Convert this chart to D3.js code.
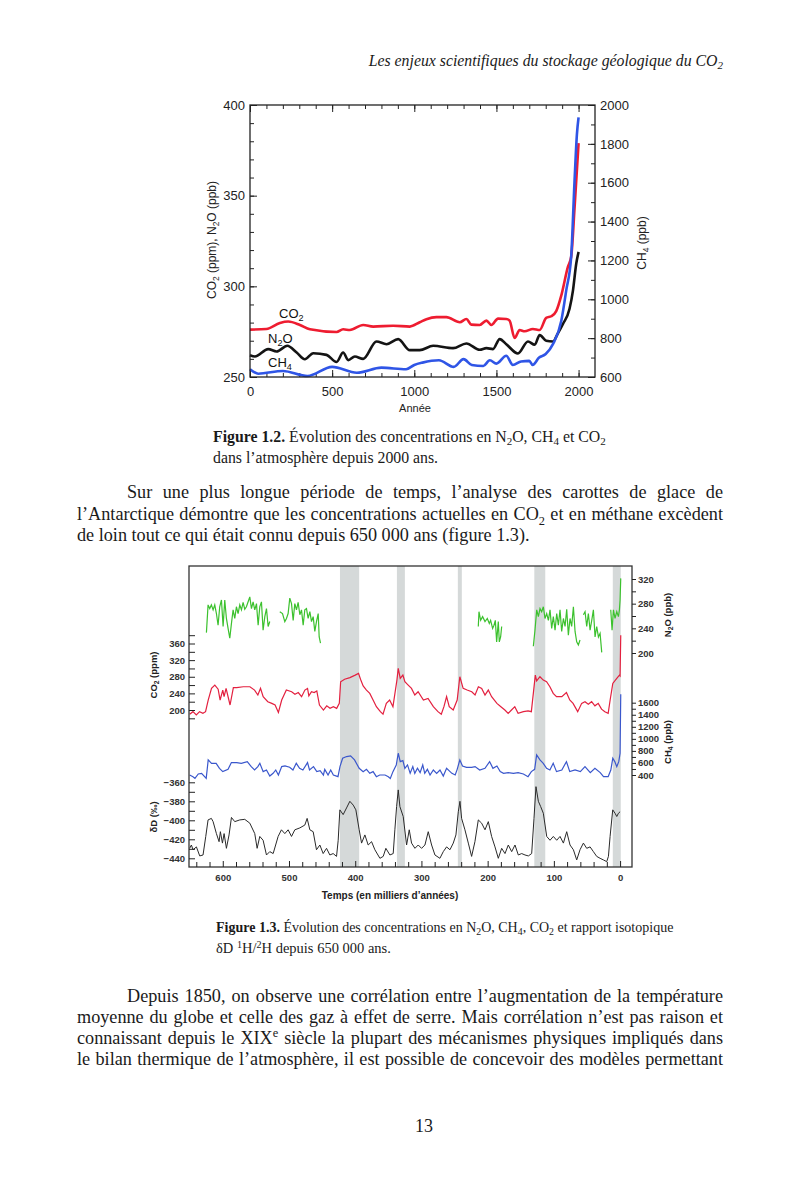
<!DOCTYPE html>
<html lang="fr">
<head>
<meta charset="UTF-8">
<title>Figures 1.2 et 1.3</title>
<script src="https://d3js.org/d3.v7.min.js"></script>
<style>
  body { margin: 0; background: #fff; }
  #page { position: relative; width: 800px; height: 1198px; overflow: hidden;
          font-family: "Liberation Serif", "Times New Roman", serif; color: #1a1a1a; }
  #page svg { position: absolute; left: 0; top: 0; }
  .line { position: absolute; font-size: 18.2px; line-height: 20px; }
  .just { text-align: justify; text-align-last: justify; }
  .line sub, .line sup { font-size: 0.68em; line-height: 0; }
</style>
</head>
<body>
<div id="page"></div>
<script>
// ---------- Figure 1.2 : 2000 dernières années ----------
var recentYearTicks = [0, 500, 1000, 1500, 2000];
var recentLeftTicks = [250, 300, 350, 400];
var recentRightTicks = [600, 800, 1000, 1200, 1400, 1600, 1800, 2000];

// [année, ppm]
var co2Recent = [[0,276.1],[100,276.5],[182,279.8],[233,280.6],[304,278.7],[365,276.3],[527,274.8],[567,276.3],
  [608,275.9],[689,278.7],[750,277.8],[871,278.3],[973,277.8],[1033,280.2],[1074,281.9],[1135,283],[1195,283],
  [1277,280.2],[1317,282],[1347,278.9],[1398,278.7],[1439,281.1],[1469,278.7],[1510,282.2],[1560,282],[1580,281.1],
  [1611,271.5],[1641,275.9],[1672,275.2],[1722,276.5],[1763,275.9],[1803,282.6],[1834,283.5],[1864,286.3],
  [1895,295],[1935,310.7],[1955,316.3],[1976,344],[2000,379]];
// [année, ppb]
var n2oRecent = [[0,262],[30,261.3],[111,265.4],[162,264.1],[227,267.2],[284,263.5],[334,259.8],[385,263.1],
  [466,262.2],[527,258.3],[567,263.5],[598,259.3],[638,261.3],[689,260],[770,269.6],[831,268.1],[902,270.9],
  [973,264.8],[1033,264.8],[1115,267.2],[1236,265.9],[1317,268.5],[1398,265],[1439,265.9],[1479,265.4],
  [1520,270.9],[1560,268.1],[1631,263],[1692,269.6],[1733,267.8],[1763,273.1],[1803,270],[1844,269.6],
  [1874,274.1],[1905,279.3],[1945,287.6],[1966,297.8],[1986,312.6],[2000,319]];
// [année, ppb] (axe de droite)
var ch4Recent = [[0,640],[50,617],[200,631],[350,605],[500,652],[650,622],[800,648],[950,640],[1000,662],
  [1050,674],[1150,686],[1240,652],[1300,692],[1350,662],[1420,657],[1460,686],[1500,669],[1560,709],[1600,662],
  [1650,680],[1700,683],[1720,662],[1760,700],[1800,718],[1844,769],[1895,890],[1925,1046],[1955,1219],
  [1975,1600],[1990,1850],[2000,1936]];

// ---------- Figure 1.3 : 650 000 ans (milliers d'années) ----------
var ageTicks = [600, 500, 400, 300, 200, 100, 0];
var co2Ticks = [200, 240, 280, 320, 360];
var dDTicks = [-440, -420, -400, -380, -360];
var n2oTicks = [200, 240, 280, 320];
var ch4Ticks = [400, 600, 800, 1000, 1200, 1400, 1600];
var interglacials = [[423, 394], [337, 325], [245, 239], [129.5, 113], [11, -1]];

// [âge, ppb], null = lacune
var n2oIce = [[624.7,233],[622.2,278],[619.7,272],[617.2,278],[614.6,270],[612.1,278],[609.6,264],[607.1,245],
  [604.6,275],[602.0,286],[599.5,243],[597.0,286],[594.5,256],[592.0,240],[589.4,224],[586.9,248],[584.4,270],
  [581.9,256],[579.4,275],[576.9,264],[574.3,278],[571.8,270],[569.3,282],[566.8,271],[564.3,275],[561.7,283],
  [559.2,291],[556.7,272],[554.2,283],[551.7,270],[549.1,280],[546.6,245],[544.1,275],[541.6,283],[539.1,237],
  [536.5,259],[534.0,272],[531.5,243],[529.0,251],[521,null],
  [513.9,267],[509.8,264],[506.3,251],[503.8,256],[501.3,264],[498.8,289],[496.2,280],[493.7,253],[491.2,280],
  [488.7,270],[486.2,282],[483.6,262],[481.1,270],[478.6,245],[476.1,270],[473.6,272],[471.1,256],[468.5,267],
  [466.0,251],[463.5,259],[461.0,235],[458.5,251],[455.9,264],[454.4,226],[452.4,216],[300,null],
  [214.1,243],[213.1,267],[210.6,253],[207.6,259],[204.0,251],[200.5,256],[197.5,248],[195.5,253],[192.5,240],
  [190.4,245],[188.4,253],[186.4,218],[183.9,251],[182.4,218],[180.4,226],[178.8,243],[150,null],
  [131.0,211],[128.5,237],[125.9,270],[123.4,259],[120.9,272],[118.4,267],[115.9,275],[113.4,256],[110.8,264],
  [108.3,253],[105.8,270],[103.3,240],[100.8,259],[98.2,237],[95.7,264],[93.2,245],[90.7,270],[88.2,235],
  [85.6,256],[83.1,243],[80.6,271],[78.1,229],[75.6,256],[73.1,243],[70.5,275],[68.0,235],[65.5,218],[63.0,213],
  [60.5,221],[58,null],[55.4,262],[52.9,267],[50.4,243],[47.9,264],[45.3,237],[42.8,253],[40.3,270],[37.8,226],
  [35.3,243],[32.7,226],[30.2,232],[27.7,201],[20,null],
  [14.1,270],[12.1,237],[10.1,270],[7.6,256],[5.0,267],[2.5,259],[1.0,270],[0,286],[-1,321]];
// [âge, ppm]
var co2Ice = [[650,190],[645,196],[640,188],[635,196],[630,192],[626,196],[622,224],[617,252],[612,260],[607,250],
  [604,224],[600,248],[598,232],[595,252],[589,212],[584,254],[579,254],[569,256],[559,256],[552,248],[547,236],
  [543,252],[539,232],[532,220],[526,216],[521,212],[516,194],[511,224],[504,248],[496,244],[491,238],[486,242],
  [481,232],[476,248],[472,252],[470,234],[466,244],[462,242],[458,246],[454,212],[448,200],[443,210],[438,204],
  [433,208],[428,204],[424,216],[422,268],[416,274],[408,278],[400,284],[395,288],[392,274],[388,258],[383,248],
  [378,240],[373,224],[368,208],[362,196],[358,190],[353,216],[348,224],[343,208],[340,240],[337,272],[335,300],
  [332,276],[328,284],[325,268],[320,260],[315,252],[310,236],[305,244],[297,224],[290,228],[282,208],[275,196],
  [270,190],[266,208],[262,232],[258,208],[252,200],[246,224],[242,280],[237,252],[231,248],[224,244],[219,236],
  [214,256],[209,252],[204,236],[199,248],[194,232],[186,216],[180,208],[174,200],[169,192],[164,200],[159,208],
  [154,192],[146,196],[139,198],[134,196],[128,284],[126,270],[121,280],[116,272],[111,268],[106,256],[101,240],
  [96,232],[88,232],[81,242],[76,224],[71,216],[64,196],[58,216],[53,220],[48,214],[43,220],[38,210],[33,216],
  [28,202],[23,196],[18,192],[15,224],[11,264],[5,276],[1,284],[0,282],[-1,380]];
// [âge, ppb]
var ch4Ice = [[650,400],[645,372],[642,344],[637,417],[632,428],[625,344],[622,650],[617,594],[610,594],[605,511],
  [600,456],[592,494],[587,606],[579,606],[572,594],[563,622],[557,539],[552,483],[547,539],[544,594],[539,456],
  [534,483],[529,383],[524,428],[520,483],[516,400],[511,539],[506,550],[499,528],[494,483],[489,594],[484,511],
  [479,483],[472,606],[469,483],[463,539],[458,456],[453,472],[448,400],[446,494],[441,400],[437,483],[433,400],
  [426,372],[423,539],[419,678],[413,706],[407,717],[401,650],[394,511],[388,456],[383,494],[378,428],[373,456],
  [368,372],[363,400],[355,400],[350,372],[347,344],[343,456],[338,567],[335,761],[332,622],[328,639],[325,511],
  [321,567],[317,428],[313,539],[310,428],[306,511],[302,439],[298,567],[295,428],[291,494],[287,400],[282,483],
  [277,428],[272,483],[267,383],[262,511],[254,428],[249,400],[246,494],[242,650],[238,550],[232,528],[224,528],
  [219,539],[212,483],[204,511],[197,622],[192,511],[186,550],[181,456],[176,428],[169,439],[161,428],[154,439],
  [146,417],[139,372],[134,456],[129,494],[126,733],[121,650],[116,594],[111,511],[106,483],[101,594],[96,456],
  [88,483],[81,622],[76,456],[68,483],[60,456],[53,539],[45,439],[38,511],[30,439],[25,372],[18,372],[14,483],
  [11,678],[8,622],[5,539],[2,622],[0,761],[-1,1740]];
// [âge, ‰]
var dDIce = [[650,-429.5],[647.4,-426],[644.9,-431],[639.8,-428],[634.8,-437.5],[629.8,-436.5],[625.7,-417],
  [622.2,-399.6],[617.2,-398],[614.6,-401.4],[609.6,-414],[605.6,-422.5],[603.6,-412],[600.5,-424],[598,-414],
  [594.5,-429.5],[590.5,-415.4],[586.9,-397],[581.9,-401.4],[574.3,-399.6],[566.8,-399],[559.2,-403],[551.7,-414],
  [548.1,-429.5],[544.1,-417],[539.1,-421],[534,-436.5],[529,-433],[523.9,-435],[516.4,-417],[511.4,-410],
  [506.3,-414],[501.3,-410],[496.2,-417],[491.2,-410],[483.6,-408],[476.1,-405],[472.6,-398],[468.5,-410],
  [463.5,-412],[458.5,-431],[453.4,-426],[448.4,-435],[443.3,-429.5],[438.3,-436.5],[433.3,-435],[428.2,-438],
  [425.7,-421],[423.2,-389],[418.2,-394],[413.1,-387],[408.1,-380],[403,-384],[399,-389],[394,-410],[390.4,-424],
  [385.4,-415.4],[380.4,-426],[375.3,-422.5],[370.3,-431],[362.7,-440],[357.7,-438],[353.7,-429.5],[347.6,-436.5],
  [342.6,-435],[340.1,-410],[337.5,-385.6],[335,-368],[332.5,-385.6],[327.5,-396],[322.4,-426],[318.4,-410],
  [314.9,-424],[309.8,-429.5],[304.8,-426],[299.8,-429.5],[294.7,-426],[289.7,-412],[284.6,-426],[279.6,-436.5],
  [272.1,-440],[267,-433],[262,-428],[256.9,-431],[251.9,-424],[247.9,-415.4],[244.3,-391],[241.8,-380],
  [239.3,-398],[234.3,-410],[229.2,-424],[224.2,-438],[219.2,-422.5],[214.1,-399.6],[209.1,-403],[204,-410],
  [199,-401.4],[194,-417],[188.9,-428],[183.9,-440],[178.8,-429.5],[173.8,-435],[168.8,-426],[163.7,-433],
  [158.7,-426],[153.7,-436.5],[148.6,-435],[143.6,-436.5],[138.5,-437.5],[133.5,-435],[130,-398],[127,-364.6],
  [123.4,-380],[119.9,-385.6],[115.9,-392.6],[110.8,-417],[105.8,-421],[100.8,-417],[95.7,-421],[90.7,-417],
  [85.6,-424],[80.6,-412],[75.6,-426],[70.5,-431],[65.5,-441.7],[60.5,-431],[55.4,-424],[50.4,-429.5],
  [45.3,-428],[40.3,-433],[35.3,-438],[30.2,-440],[25.2,-441.7],[20.2,-443.5],[17.6,-438],[15.1,-417],
  [11.1,-389],[7.6,-392.6],[5,-396],[2.5,-392.6],[0,-391]];

var sans = "'Liberation Sans', Arial, Helvetica, sans-serif";
var serif = "'Liberation Serif', 'Times New Roman', serif";
var fmt = d3.format("d");
var page = d3.select("#page");
var svg = page.append("svg").attr("width", 800).attr("height", 1198);

// texte avec indices / exposants
function rich(text, parts, fs) {
  parts.forEach(function(p) {
    var t = text.append("tspan").text(p[0]);
    if (p[1] === "b") t.attr("font-weight", "bold");
    if (p[1] === "sub") t.attr("font-size", fs * 0.7).attr("baseline-shift", -fs * 0.22);
    if (p[1] === "sup") t.attr("font-size", fs * 0.7).attr("baseline-shift", fs * 0.38);
  });
  return text;
}

function addAxis(g, gen, tr) {
  var a = g.append("g").attr("transform", tr).call(gen);
  a.select(".domain").remove();
  a.selectAll(".tick line").attr("stroke", "#222");
  return a;
}

// ---------- en-tête ----------
rich(svg.append("text").attr("x", 723).attr("y", 66).attr("text-anchor", "end")
  .attr("font-family", serif).attr("font-size", 15.8).attr("font-style", "italic").attr("fill", "#1a1a1a"),
  [["Les enjeux scientifiques du stockage géologique du CO"], ["2", "sub"]], 15.8);

// ---------- Figure 1.2 ----------
var x1 = d3.scaleLinear().domain([0, 2100]).range([250, 595]);
var y1 = d3.scaleLinear().domain([250, 400]).range([377, 105]);
var y1r = d3.scaleLinear().domain([600, 2000]).range([377, 105]);
var g1 = svg.append("g").attr("font-family", sans);

var minorYears = d3.range(0, 2100, 100);
var b1 = addAxis(g1, d3.axisBottom(x1).tickValues(recentYearTicks).tickFormat(fmt).tickSize(-7).tickPadding(10), "translate(0,377)");
addAxis(g1, d3.axisBottom(x1).tickValues(minorYears).tickSize(-4).tickFormat(""), "translate(0,377)");
addAxis(g1, d3.axisTop(x1).tickValues(recentYearTicks).tickSize(-7).tickFormat(""), "translate(0,105)");
addAxis(g1, d3.axisTop(x1).tickValues(minorYears).tickSize(-4).tickFormat(""), "translate(0,105)");
var l1 = addAxis(g1, d3.axisLeft(y1).tickValues(recentLeftTicks).tickFormat(fmt).tickSize(-7).tickPadding(5), "translate(250,0)");
addAxis(g1, d3.axisLeft(y1).tickValues(d3.range(250, 401, 10)).tickSize(-4).tickFormat(""), "translate(250,0)");
var r1 = addAxis(g1, d3.axisRight(y1r).tickValues(recentRightTicks).tickFormat(fmt).tickSize(-7).tickPadding(5), "translate(595,0)");
addAxis(g1, d3.axisRight(y1r).tickValues(d3.range(600, 2001, 100)).tickSize(-4).tickFormat(""), "translate(595,0)");
[b1, l1, r1].forEach(function(a) {
  a.selectAll("text").attr("font-family", sans).attr("font-size", 13).attr("fill", "#222");
});

var line1 = function(y) {
  return d3.line().x(function(d) { return x1(d[0]); }).y(function(d) { return y(d[1]); }).curve(d3.curveMonotoneX);
};
g1.append("path").datum(n2oRecent).attr("d", line1(y1)).attr("fill", "none").attr("stroke", "#141414")
  .attr("stroke-width", 2.6).attr("stroke-linejoin", "round");
g1.append("path").datum(co2Recent).attr("d", line1(y1)).attr("fill", "none").attr("stroke", "#ee1c30")
  .attr("stroke-width", 2.6).attr("stroke-linejoin", "round");
g1.append("path").datum(ch4Recent).attr("d", line1(y1r)).attr("fill", "none").attr("stroke", "#2f55e6")
  .attr("stroke-width", 2.6).attr("stroke-linejoin", "round");

g1.append("rect").attr("x", 250).attr("y", 105).attr("width", 345).attr("height", 272)
  .attr("fill", "none").attr("stroke", "#222").attr("stroke-width", 1.3);

rich(g1.append("text").attr("x", 279).attr("y", 318).attr("font-size", 13).attr("fill", "#111"), [["CO"], ["2", "sub"]], 13);
rich(g1.append("text").attr("x", 268).attr("y", 343).attr("font-size", 13).attr("fill", "#111"), [["N"], ["2", "sub"], ["O"]], 13);
rich(g1.append("text").attr("x", 268).attr("y", 367).attr("font-size", 13).attr("fill", "#111"), [["CH"], ["4", "sub"]], 13);

g1.append("text").attr("x", 415).attr("y", 412).attr("text-anchor", "middle").attr("font-size", 11)
  .attr("fill", "#222").text("Année");
rich(g1.append("text").attr("transform", "translate(216,240) rotate(-90)").attr("text-anchor", "middle")
  .attr("font-size", 12).attr("fill", "#222"),
  [["CO"], ["2", "sub"], [" (ppm), N"], ["2", "sub"], ["O (ppb)"]], 12);
rich(g1.append("text").attr("transform", "translate(646,243) rotate(-90)").attr("text-anchor", "middle")
  .attr("font-size", 12).attr("fill", "#222"),
  [["CH"], ["4", "sub"], [" (ppb)"]], 12);

// légende figure 1.2
rich(svg.append("text").attr("x", 213).attr("y", 442).attr("font-family", serif).attr("font-size", 15.8).attr("fill", "#1a1a1a"),
  [["Figure 1.2.", "b"], [" Évolution des concentrations en N"], ["2", "sub"], ["O, CH"], ["4", "sub"], [" et CO"], ["2", "sub"]], 15.8);
svg.append("text").attr("x", 213).attr("y", 463).attr("font-family", serif).attr("font-size", 15.8).attr("fill", "#1a1a1a")
  .text("dans l’atmosphère depuis 2000 ans.");

// ---------- Figure 1.3 ----------
var x2 = d3.scaleLinear().domain([651, -18]).range([189, 632]);
var yCO2 = d3.scaleLinear().domain([200, 360]).range([710, 643.5]);
var yN2O = d3.scaleLinear().domain([200, 320]).range([653, 579]);
var yCH4 = d3.scaleLinear().domain([400, 1600]).range([775, 702.7]);
var yDD = d3.scaleLinear().domain([-440, -360]).range([858.3, 782.3]);
var g2 = svg.append("g").attr("font-family", sans);

g2.selectAll(".band").data(interglacials).enter().append("rect")
  .attr("x", function(d) { return x2(d[0]); })
  .attr("width", function(d) { return x2(d[1]) - x2(d[0]); })
  .attr("y", 566).attr("height", 301).attr("fill", "#d5d9d9");

function line2(y) {
  return d3.line().defined(function(d) { return d[1] !== null; })
    .x(function(d) { return x2(d[0]); }).y(function(d) { return y(d[1]); });
}
g2.append("path").datum(n2oIce).attr("d", line2(yN2O)).attr("fill", "none").attr("stroke", "#3cc12e").attr("stroke-width", 1.2);
g2.append("path").datum(co2Ice).attr("d", line2(yCO2)).attr("fill", "none").attr("stroke", "#e3203f").attr("stroke-width", 1.2);
g2.append("path").datum(ch4Ice).attr("d", line2(yCH4)).attr("fill", "none").attr("stroke", "#3a57cc").attr("stroke-width", 1.2);
g2.append("path").datum(dDIce).attr("d", line2(yDD)).attr("fill", "none").attr("stroke", "#2a2a2a").attr("stroke-width", 1);

g2.append("rect").attr("x", 189).attr("y", 566).attr("width", 443).attr("height", 301)
  .attr("fill", "none").attr("stroke", "#333").attr("stroke-width", 1.3);

var ageMinor = d3.range(0, 651, 20).filter(function(v) { return v % 100 !== 0; });
var ab = addAxis(g2, d3.axisBottom(x2).tickValues(ageTicks).tickFormat(fmt).tickSize(-6).tickPadding(7), "translate(0,867)");
addAxis(g2, d3.axisBottom(x2).tickValues(ageMinor).tickSize(-5).tickFormat(""), "translate(0,867)");
var ac = addAxis(g2, d3.axisLeft(yCO2).tickValues(co2Ticks).tickFormat(fmt).tickSize(-6).tickPadding(4), "translate(189,0)");
addAxis(g2, d3.axisLeft(yCO2).tickValues([180, 220, 260, 300, 340, 380]).tickSize(-6).tickFormat(""), "translate(189,0)");
var ad = addAxis(g2, d3.axisLeft(yDD).tickValues(dDTicks).tickFormat(fmt).tickSize(-6).tickPadding(4), "translate(189,0)");
addAxis(g2, d3.axisLeft(yDD).tickValues([-430, -410, -390, -370]).tickSize(-6).tickFormat(""), "translate(189,0)");
var an = addAxis(g2, d3.axisRight(yN2O).tickValues(n2oTicks).tickFormat(fmt).tickSize(4).tickPadding(2), "translate(632,0)");
addAxis(g2, d3.axisRight(yN2O).tickValues([220, 260, 300]).tickSize(4).tickFormat(""), "translate(632,0)");
var am = addAxis(g2, d3.axisRight(yCH4).tickValues(ch4Ticks).tickFormat(fmt).tickSize(4).tickPadding(2), "translate(632,0)");
addAxis(g2, d3.axisRight(yCH4).tickValues([500, 700, 900, 1100, 1300, 1500]).tickSize(4).tickFormat(""), "translate(632,0)");
[ab, ac, ad, an, am].forEach(function(a) {
  a.selectAll("text").attr("font-family", sans).attr("font-size", 9.5).attr("font-weight", "bold").attr("fill", "#333");
});

g2.append("text").attr("x", 390).attr("y", 899).attr("text-anchor", "middle").attr("font-size", 10)
  .attr("font-weight", "bold").attr("fill", "#222").text("Temps (en milliers d’années)");
function vlabel(x, y, parts) {
  rich(g2.append("text").attr("transform", "translate(" + x + "," + y + ") rotate(-90)").attr("text-anchor", "middle")
    .attr("font-size", 9.5).attr("font-weight", "bold").attr("fill", "#222"), parts, 9.5);
}
vlabel(157, 675, [["CO"], ["2", "sub"], [" (ppm)"]]);
vlabel(157, 817, [["δD (‰)"]]);
vlabel(671, 615, [["N"], ["2", "sub"], ["O (ppb)"]]);
vlabel(671, 742, [["CH"], ["4", "sub"], [" (ppb)"]]);

// légende figure 1.3
rich(svg.append("text").attr("x", 216).attr("y", 932).attr("font-family", serif).attr("font-size", 14).attr("fill", "#1a1a1a"),
  [["Figure 1.3.", "b"], [" Évolution des concentrations en N"], ["2", "sub"], ["O, CH"], ["4", "sub"], [", CO"], ["2", "sub"],
   [" et rapport isotopique"]], 14);
rich(svg.append("text").attr("x", 216).attr("y", 953).attr("font-family", serif).attr("font-size", 14.5).attr("fill", "#1a1a1a"),
  [["δD "], ["1", "sup"], ["H/"], ["2", "sup"], ["H depuis 650 000 ans."]], 14.5);

svg.append("text").attr("x", 424).attr("y", 1132).attr("text-anchor", "middle").attr("font-family", serif)
  .attr("font-size", 18).attr("fill", "#1a1a1a").text("13");

// ---------- paragraphes ----------
var paraLines = [
  [127, 482, 596, true, "Sur une plus longue période de temps, l’analyse des carottes de glace de"],
  [77, 504, 646, true, "l’Antarctique démontre que les concentrations actuelles en CO<sub>2</sub> et en méthane excèdent"],
  [77, 525, 646, false, "de loin tout ce qui était connu depuis 650 000 ans (figure 1.3)."],
  [127, 986, 596, true, "Depuis 1850, on observe une corrélation entre l’augmentation de la température"],
  [77, 1007, 646, true, "moyenne du globe et celle des gaz à effet de serre. Mais corrélation n’est pas raison et"],
  [77, 1028, 646, true, "connaissant depuis le XIX<sup>e</sup> siècle la plupart des mécanismes physiques impliqués dans"],
  [77, 1049, 646, true, "le bilan thermique de l’atmosphère, il est possible de concevoir des modèles permettant"]
];
paraLines.forEach(function(p) {
  page.append("div").attr("class", "line" + (p[3] ? " just" : ""))
    .style("left", p[0] + "px").style("top", p[1] + "px").style("width", p[2] + "px")
    .html(p[4]);
});
</script>
</body>
</html>
